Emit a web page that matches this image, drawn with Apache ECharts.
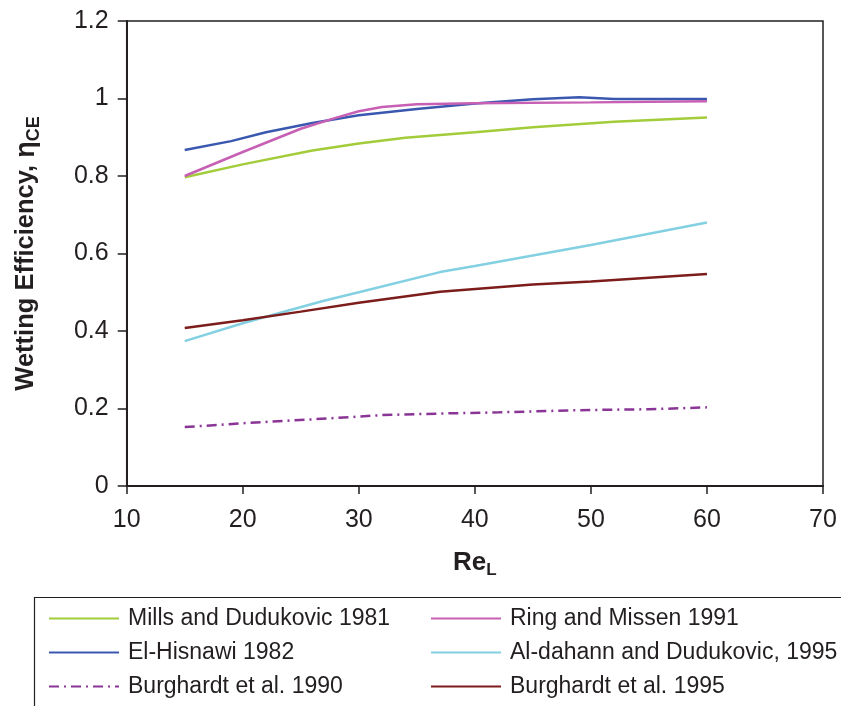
<!DOCTYPE html>
<html>
<head>
<meta charset="utf-8">
<script src="https://cdn.jsdelivr.net/npm/echarts@6/dist/echarts.min.js"></script>
<style>
  html, body { margin: 0; padding: 0; background: #fff; }
  #chart { width: 841px; height: 706px; }
</style>
</head>
<body>
<div id="chart"></div>
<script>
// Wetting efficiency correlations versus liquid Reynolds number
const xTicks = [10, 20, 30, 40, 50, 60, 70];
const yTicks = [0, 0.2, 0.4, 0.6, 0.8, 1, 1.2];

const millsDudukovic1981 = [[15, 0.797], [20, 0.830], [26, 0.866], [30, 0.884], [34, 0.899], [40, 0.913], [45, 0.926], [52, 0.940], [60, 0.951]];
const elHisnawi1982 = [[15, 0.867], [19, 0.890], [22, 0.913], [26, 0.937], [30, 0.957], [35, 0.973], [40, 0.987], [45, 0.998], [49, 1.003], [52, 0.999], [60, 0.999]];
const burghardt1990 = [[15, 0.152], [20, 0.162], [26, 0.172], [30, 0.179], [32, 0.183], [37, 0.187], [42, 0.190], [48, 0.195], [52, 0.197], [55, 0.198], [60, 0.203]];
const ringMissen1991 = [[15, 0.800], [20, 0.862], [25, 0.922], [28, 0.950], [30, 0.967], [32, 0.978], [35, 0.985], [40, 0.988], [50, 0.990], [60, 0.993]];
const alDahannDudukovic1995 = [[15, 0.374], [20, 0.420], [23, 0.445], [27, 0.478], [30, 0.500], [37, 0.552], [40, 0.568], [50, 0.622], [60, 0.680]];
const burghardt1995 = [[15, 0.408], [20, 0.428], [25, 0.450], [30, 0.473], [37, 0.501], [45, 0.520], [50, 0.528], [60, 0.547]];

const names = [
  'Mills and Dudukovic 1981',
  'El-Hisnawi 1982',
  'Burghardt et al. 1990',
  'Ring and Missen 1991',
  'Al-dahann and Dudukovic, 1995',
  'Burghardt et al. 1995'
];

const FONT = '"Liberation Sans", Arial, sans-serif';
const AXIS_COLOR = '#231f20';

function lineSeries(name, data, color, type) {
  return {
    name: name,
    type: 'line',
    data: data,
    symbol: 'none',
    showSymbol: false,
    smooth: false,
    lineStyle: { color: color, width: 2.5, type: type || 'solid' },
    itemStyle: { color: color },
    emphasis: { disabled: true }
  };
}

const chart = echarts.init(document.getElementById('chart'), null, { renderer: 'canvas' });

const legendCommon = {
  orient: 'vertical',
  padding: 0,
  itemWidth: 70,
  itemHeight: 14,
  itemGap: 11,
  itemStyle: { opacity: 0 },
  textStyle: { fontFamily: FONT, fontSize: 23, color: '#231f20', padding: [0, 0, 0, 4] },
  selectedMode: false
};

chart.setOption({
  animation: false,
  backgroundColor: '#fff',
  grid: {
    left: 126.7, right: 18, top: 21, bottom: 220,
    show: true, borderColor: AXIS_COLOR, borderWidth: 1.5, backgroundColor: 'transparent'
  },
  xAxis: {
    type: 'value',
    min: xTicks[0], max: xTicks[xTicks.length - 1], interval: 10,
    name: 'Re{sub|L}',
    nameLocation: 'middle',
    nameGap: 60,
    nameTextStyle: {
      fontFamily: FONT, fontSize: 26, fontWeight: 'bold', color: AXIS_COLOR,
      rich: { sub: { fontFamily: FONT, fontSize: 17, fontWeight: 'bold', color: AXIS_COLOR, verticalAlign: 'bottom', padding: [16, 0, 0, 0] } }
    },
    axisLine: { show: true, onZero: false, lineStyle: { color: AXIS_COLOR, width: 2 } },
    axisTick: { show: true, length: 8, lineStyle: { color: AXIS_COLOR, width: 1.5 } },
    axisLabel: { fontFamily: FONT, fontSize: 25, color: AXIS_COLOR, margin: 22 },
    splitLine: { show: false }
  },
  yAxis: {
    type: 'value',
    min: yTicks[0], max: yTicks[yTicks.length - 1], interval: 0.2,
    name: 'Wetting Efficiency, {eta|η}{sub|CE}',
    nameLocation: 'middle',
    nameGap: 84,
    nameTextStyle: {
      fontFamily: FONT, fontSize: 25.5, fontWeight: 'bold', color: AXIS_COLOR,
      rich: {
        eta: { fontFamily: FONT, fontSize: 27, color: AXIS_COLOR },
        sub: { fontFamily: FONT, fontSize: 18, fontWeight: 'bold', color: AXIS_COLOR, verticalAlign: 'bottom', padding: [15, 0, 0, 0] }
      }
    },
    axisLine: { show: true, lineStyle: { color: AXIS_COLOR, width: 2 } },
    axisTick: { show: true, length: 9, lineStyle: { color: AXIS_COLOR, width: 1.5 } },
    axisLabel: {
      fontFamily: FONT, fontSize: 25, color: AXIS_COLOR, margin: 18,
      formatter: v => String(Math.round(v * 10) / 10)
    },
    splitLine: { show: false }
  },
  legend: [
    Object.assign({}, legendCommon, { left: 48, top: 607, data: names.slice(0, 3) }),
    Object.assign({}, legendCommon, { left: 430, top: 607, data: names.slice(3, 6) })
  ],
  graphic: [{
    type: 'rect',
    shape: { x: 34.5, y: 597.5, width: 840, height: 140 },
    style: { fill: 'none', stroke: '#231f20', lineWidth: 1.2 },
    silent: true
  }],
  series: [
    lineSeries(names[0], millsDudukovic1981, '#a2cc3a'),
    lineSeries(names[1], elHisnawi1982, '#3a58b0'),
    lineSeries(names[2], burghardt1990, '#8a3596', [10, 5, 2, 5]),
    lineSeries(names[3], ringMissen1991, '#c760b4'),
    lineSeries(names[4], alDahannDudukovic1995, '#82d0e2'),
    lineSeries(names[5], burghardt1995, '#7c1d1c')
  ]
});
</script>
</body>
</html>
